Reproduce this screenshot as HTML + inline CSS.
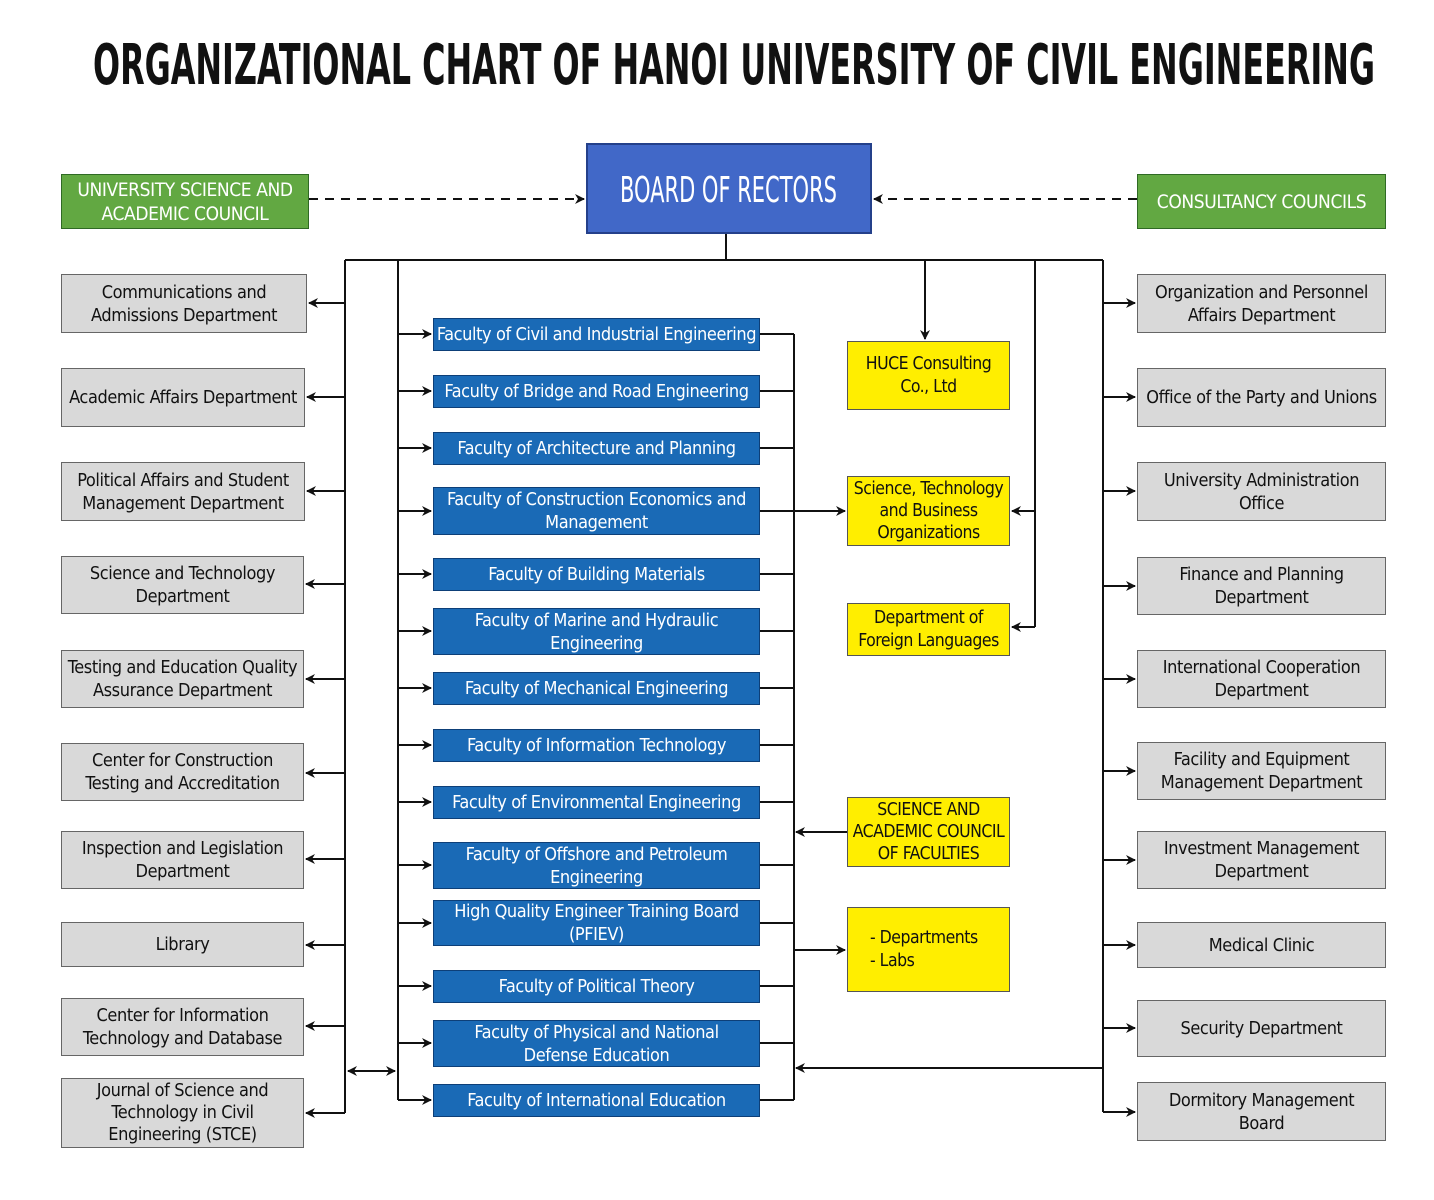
<!DOCTYPE html>
<html><head><meta charset="utf-8"><style>
body{margin:0;width:1434px;height:1200px;background:#fff;position:relative;overflow:hidden;font-family:"Liberation Sans Narrow","DejaVu Sans Condensed","Liberation Sans",sans-serif;}
.b{position:absolute;display:flex;align-items:center;justify-content:center;text-align:center;box-sizing:border-box;font-size:18px;letter-spacing:-0.4px;line-height:23px;color:#111;white-space:nowrap;}
.g{background:#d9d9d9;border:1.5px solid #666;}
.f{background:#1a6ab6;border:1px solid #0d3f78;color:#fff;}
.y{background:#ffee00;border:1.5px solid #555;color:#111;font-size:17.5px;letter-spacing:-0.5px;}
.gr{background:#62a842;border:1.5px solid #2f6a24;color:#fff;font-size:19px;line-height:24px;}
svg{position:absolute;left:0;top:0;}
</style></head><body>
<svg width="1434" height="1200" style="z-index:0">
<defs><marker id="a" markerWidth="10" markerHeight="10" refX="9" refY="5" orient="auto" markerUnits="userSpaceOnUse"><path d="M0,0 L10,5 L0,10 L3,5z" fill="#111"/></marker>
<marker id="s" markerWidth="10" markerHeight="10" refX="1" refY="5" orient="auto" markerUnits="userSpaceOnUse"><path d="M10,0 L0,5 L10,10 L7,5z" fill="#111"/></marker></defs>
<text x="93" y="84" textLength="1282" lengthAdjust="spacingAndGlyphs" font-family="Liberation Sans Narrow,DejaVu Sans Condensed,Liberation Sans,sans-serif" font-weight="bold" font-size="56" fill="#111">ORGANIZATIONAL CHART OF HANOI UNIVERSITY OF CIVIL ENGINEERING</text>
<g stroke="#111" stroke-width="2" fill="none">
<line x1="309" y1="199" x2="584" y2="199" stroke-dasharray="9,7" marker-end="url(#a)"/>
<line x1="1137" y1="199" x2="874" y2="199" stroke-dasharray="9,7" marker-end="url(#a)"/>
<line x1="726" y1="234" x2="726" y2="260"/>
<line x1="345" y1="260" x2="1103" y2="260"/>
<line x1="345" y1="260" x2="345" y2="1113"/>
<line x1="398" y1="260" x2="398" y2="1100"/>
<line x1="1103" y1="260" x2="1103" y2="1112"/>
<line x1="794" y1="334" x2="794" y2="1100"/>
<line x1="925" y1="260" x2="925" y2="339" marker-end="url(#a)"/>
<line x1="1035" y1="260" x2="1035" y2="627"/>
<line x1="1035" y1="511" x2="1012" y2="511" marker-end="url(#a)"/>
<line x1="1035" y1="627" x2="1012" y2="627" marker-end="url(#a)"/>
<line x1="760" y1="511" x2="845" y2="511" marker-end="url(#a)"/>
<line x1="847" y1="832" x2="796" y2="832" marker-end="url(#a)"/>
<line x1="794" y1="950" x2="845" y2="950" marker-end="url(#a)"/>
<line x1="1103" y1="1068" x2="796" y2="1068" marker-end="url(#a)"/>
<line x1="348" y1="1071" x2="395" y2="1071" marker-start="url(#s)" marker-end="url(#a)"/>
<line x1="345" y1="303" x2="309" y2="303" marker-end="url(#a)"/>
<line x1="345" y1="397" x2="307" y2="397" marker-end="url(#a)"/>
<line x1="345" y1="491" x2="307" y2="491" marker-end="url(#a)"/>
<line x1="345" y1="584" x2="306" y2="584" marker-end="url(#a)"/>
<line x1="345" y1="679" x2="306" y2="679" marker-end="url(#a)"/>
<line x1="345" y1="773" x2="306" y2="773" marker-end="url(#a)"/>
<line x1="345" y1="859" x2="306" y2="859" marker-end="url(#a)"/>
<line x1="345" y1="945" x2="306" y2="945" marker-end="url(#a)"/>
<line x1="345" y1="1026" x2="306" y2="1026" marker-end="url(#a)"/>
<line x1="345" y1="1113" x2="306" y2="1113" marker-end="url(#a)"/>
<line x1="1103" y1="303" x2="1135" y2="303" marker-end="url(#a)"/>
<line x1="1103" y1="397" x2="1135" y2="397" marker-end="url(#a)"/>
<line x1="1103" y1="491" x2="1135" y2="491" marker-end="url(#a)"/>
<line x1="1103" y1="586" x2="1135" y2="586" marker-end="url(#a)"/>
<line x1="1103" y1="679" x2="1135" y2="679" marker-end="url(#a)"/>
<line x1="1103" y1="771" x2="1135" y2="771" marker-end="url(#a)"/>
<line x1="1103" y1="860" x2="1135" y2="860" marker-end="url(#a)"/>
<line x1="1103" y1="945" x2="1135" y2="945" marker-end="url(#a)"/>
<line x1="1103" y1="1028" x2="1135" y2="1028" marker-end="url(#a)"/>
<line x1="1103" y1="1112" x2="1135" y2="1112" marker-end="url(#a)"/>
<line x1="398" y1="334" x2="431" y2="334" marker-end="url(#a)"/><line x1="760" y1="334" x2="794" y2="334"/>
<line x1="398" y1="391" x2="431" y2="391" marker-end="url(#a)"/><line x1="760" y1="391" x2="794" y2="391"/>
<line x1="398" y1="448" x2="431" y2="448" marker-end="url(#a)"/><line x1="760" y1="448" x2="794" y2="448"/>
<line x1="398" y1="511" x2="431" y2="511" marker-end="url(#a)"/>
<line x1="398" y1="574" x2="431" y2="574" marker-end="url(#a)"/><line x1="760" y1="574" x2="794" y2="574"/>
<line x1="398" y1="631" x2="431" y2="631" marker-end="url(#a)"/><line x1="760" y1="631" x2="794" y2="631"/>
<line x1="398" y1="688" x2="431" y2="688" marker-end="url(#a)"/><line x1="760" y1="688" x2="794" y2="688"/>
<line x1="398" y1="745" x2="431" y2="745" marker-end="url(#a)"/><line x1="760" y1="745" x2="794" y2="745"/>
<line x1="398" y1="802" x2="431" y2="802" marker-end="url(#a)"/><line x1="760" y1="802" x2="794" y2="802"/>
<line x1="398" y1="865" x2="431" y2="865" marker-end="url(#a)"/><line x1="760" y1="865" x2="794" y2="865"/>
<line x1="398" y1="923" x2="431" y2="923" marker-end="url(#a)"/><line x1="760" y1="923" x2="794" y2="923"/>
<line x1="398" y1="986" x2="431" y2="986" marker-end="url(#a)"/><line x1="760" y1="986" x2="794" y2="986"/>
<line x1="398" y1="1043" x2="431" y2="1043" marker-end="url(#a)"/><line x1="760" y1="1043" x2="794" y2="1043"/>
<line x1="398" y1="1100" x2="431" y2="1100" marker-end="url(#a)"/><line x1="760" y1="1100" x2="794" y2="1100"/>
</g>
</svg>

<div class="b" style="left:586px;top:143px;width:286px;height:91px;background:#4168c8;border:2px solid #24408a;"></div>
<svg width="1434" height="240" style="z-index:2"><text x="620" y="202" textLength="217" lengthAdjust="spacingAndGlyphs" font-family="Liberation Sans Narrow,DejaVu Sans Condensed,Liberation Sans,sans-serif" font-size="36" fill="#fff">BOARD OF RECTORS</text></svg>

<div class="b gr" style="left:61px;top:174px;width:248px;height:55px;">UNIVERSITY SCIENCE AND<br>ACADEMIC COUNCIL</div>
<div class="b gr" style="left:1137px;top:174px;width:249px;height:55px;">CONSULTANCY COUNCILS</div>

<div class="b g" style="left:61px;top:274px;width:246px;height:59px;">Communications and<br>Admissions Department</div>
<div class="b g" style="left:61px;top:368px;width:244px;height:59px;">Academic Affairs Department</div>
<div class="b g" style="left:61px;top:462px;width:244px;height:59px;">Political Affairs and Student<br>Management Department</div>
<div class="b g" style="left:61px;top:556px;width:243px;height:58px;">Science and Technology<br>Department</div>
<div class="b g" style="left:61px;top:650px;width:243px;height:58px;">Testing and Education Quality<br>Assurance Department</div>
<div class="b g" style="left:61px;top:743px;width:243px;height:58px;">Center for Construction<br>Testing and Accreditation</div>
<div class="b g" style="left:61px;top:831px;width:243px;height:58px;">Inspection and Legislation<br>Department</div>
<div class="b g" style="left:61px;top:922px;width:243px;height:45px;">Library</div>
<div class="b g" style="left:61px;top:998px;width:243px;height:58px;">Center for Information<br>Technology and Database</div>
<div class="b g" style="left:61px;top:1078px;width:243px;height:70px;line-height:22px;">Journal of Science and<br>Technology in Civil<br>Engineering (STCE)</div>

<div class="b g" style="left:1137px;top:274px;width:249px;height:59px;">Organization and Personnel<br>Affairs Department</div>
<div class="b g" style="left:1137px;top:368px;width:249px;height:59px;">Office of the Party and Unions</div>
<div class="b g" style="left:1137px;top:462px;width:249px;height:59px;">University Administration<br>Office</div>
<div class="b g" style="left:1137px;top:557px;width:249px;height:58px;">Finance and Planning<br>Department</div>
<div class="b g" style="left:1137px;top:650px;width:249px;height:58px;">International Cooperation<br>Department</div>
<div class="b g" style="left:1137px;top:742px;width:249px;height:58px;">Facility and Equipment<br>Management Department</div>
<div class="b g" style="left:1137px;top:831px;width:249px;height:58px;">Investment Management<br>Department</div>
<div class="b g" style="left:1137px;top:922px;width:249px;height:46px;">Medical Clinic</div>
<div class="b g" style="left:1137px;top:1000px;width:249px;height:57px;">Security Department</div>
<div class="b g" style="left:1137px;top:1082px;width:249px;height:59px;">Dormitory Management<br>Board</div>

<div class="b f" style="left:433px;top:318px;width:327px;height:33px;">Faculty of Civil and Industrial Engineering</div>
<div class="b f" style="left:433px;top:375px;width:327px;height:33px;">Faculty of Bridge and Road Engineering</div>
<div class="b f" style="left:433px;top:432px;width:327px;height:33px;">Faculty of Architecture and Planning</div>
<div class="b f" style="left:433px;top:487px;width:327px;height:48px;">Faculty of Construction Economics and<br>Management</div>
<div class="b f" style="left:433px;top:558px;width:327px;height:33px;">Faculty of Building Materials</div>
<div class="b f" style="left:433px;top:608px;width:327px;height:47px;">Faculty of Marine and Hydraulic<br>Engineering</div>
<div class="b f" style="left:433px;top:672px;width:327px;height:33px;">Faculty of Mechanical Engineering</div>
<div class="b f" style="left:433px;top:729px;width:327px;height:33px;">Faculty of Information Technology</div>
<div class="b f" style="left:433px;top:786px;width:327px;height:33px;">Faculty of Environmental Engineering</div>
<div class="b f" style="left:433px;top:842px;width:327px;height:47px;">Faculty of Offshore and Petroleum<br>Engineering</div>
<div class="b f" style="left:433px;top:900px;width:327px;height:46px;">High Quality Engineer Training Board<br>(PFIEV)</div>
<div class="b f" style="left:433px;top:970px;width:327px;height:33px;">Faculty of Political Theory</div>
<div class="b f" style="left:433px;top:1020px;width:327px;height:47px;">Faculty of Physical and National<br>Defense Education</div>
<div class="b f" style="left:433px;top:1084px;width:327px;height:33px;">Faculty of International Education</div>

<div class="b y" style="left:847px;top:341px;width:163px;height:69px;">HUCE Consulting<br>Co., Ltd</div>
<div class="b y" style="left:847px;top:476px;width:163px;height:70px;line-height:22px;">Science, Technology<br>and Business<br>Organizations</div>
<div class="b y" style="left:847px;top:603px;width:163px;height:53px;">Department of<br>Foreign Languages</div>
<div class="b y" style="left:847px;top:797px;width:163px;height:70px;line-height:22px;">SCIENCE AND<br>ACADEMIC COUNCIL<br>OF FACULTIES</div>
<div class="b y" style="left:847px;top:907px;width:163px;height:85px;justify-content:flex-start;text-align:left;padding-left:22px;">- Departments<br>- Labs</div>
</body></html>
